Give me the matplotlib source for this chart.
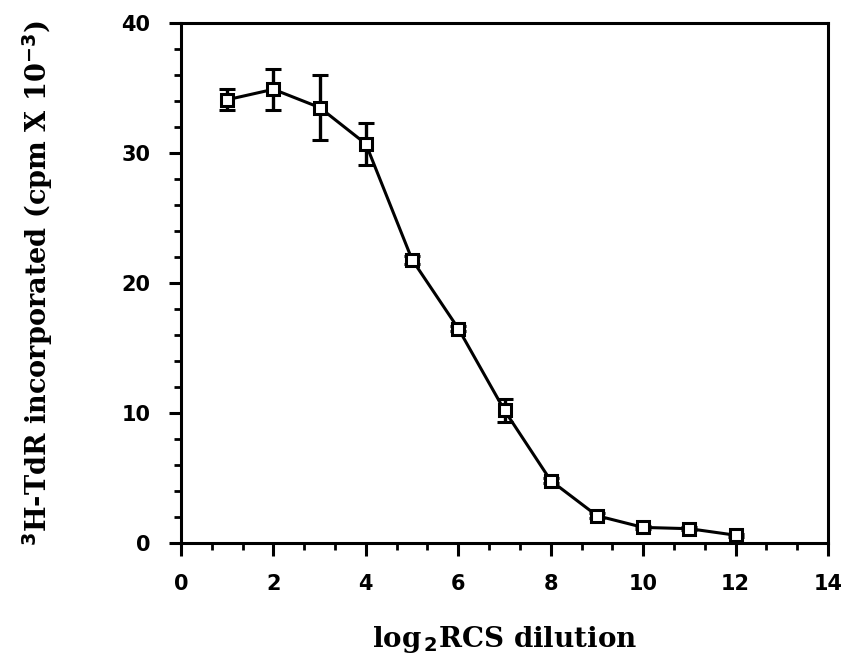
import numpy as np
import matplotlib
matplotlib.use("Agg")
import matplotlib.pyplot as plt
from matplotlib.ticker import MultipleLocator

# log2 dilution vs 3H-TdR incorporation (cpm x 10^-3)
dilution = [1, 2, 3, 4, 5, 6, 7, 8, 9, 10, 11, 12]
cpm = [34.1, 34.9, 33.5, 30.7, 21.8, 16.5, 10.2, 4.8, 2.1, 1.2, 1.1, 0.6]
err = [0.8, 1.6, 2.5, 1.6, 0.3, 0.2, 0.9, 0.2, 0.2, 0.1, 0.1, 0.1]

fig = plt.figure(figsize=(8.47, 6.67), dpi=100)
ax = fig.add_axes([0.2137, 0.1859, 0.7639, 0.7796])

ax.errorbar(dilution, cpm, yerr=err, color='black', lw=2.2,
            elinewidth=2.4, capsize=6, capthick=2.4,
            marker='s', ms=8.5, mfc='white', mec='black', mew=2.2, zorder=3)

ax.set_xlim(0, 14)
ax.set_ylim(0, 40)
ax.xaxis.set_major_locator(MultipleLocator(2))
ax.xaxis.set_minor_locator(MultipleLocator(2 / 3))
ax.yaxis.set_major_locator(MultipleLocator(10))
ax.yaxis.set_minor_locator(MultipleLocator(2))

for s in ax.spines.values():
    s.set_linewidth(2.2)
ax.tick_params(which='major', direction='out', length=9, width=2.2, pad=13)
ax.tick_params(which='minor', direction='out', length=5, width=2.0)
for lab in ax.get_xticklabels() + ax.get_yticklabels():
    lab.set_fontsize(15)
    lab.set_fontweight('bold')

ax.set_xlabel(r'log$_{\,\mathbf{2}}$RCS dilution', fontsize=20, fontweight='bold',
              family='DejaVu Serif', labelpad=22)
ax.set_ylabel(r'$^{\mathbf{3}}$H-TdR incorporated (cpm X 10$^{\mathbf{-3}}$)', fontsize=19.5,
              fontweight='bold', family='DejaVu Serif', labelpad=48)

fig.savefig('out.png', dpi=100)
